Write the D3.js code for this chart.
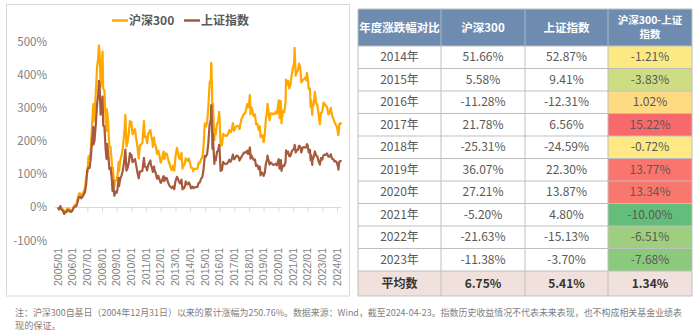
<!DOCTYPE html>
<html><head><meta charset="utf-8">
<script src="https://cdn.jsdelivr.net/npm/d3@7"></script>
<style>
html,body{margin:0;padding:0;background:#fff;}
svg{display:block;font-family:"Noto Sans CJK SC","Noto Sans",sans-serif;}
</style></head>
<body><svg id="c" width="700" height="335"></svg>
<script>
// ---------- line chart data (index closes; base = 2004-12-31) ----------
const seriesNames = ["沪深300", "上证指数"];
const hs300Base = 1000;
const sseBase = 1266.5;
const dates = [
"2004-12-31",
"2005-01-31","2005-02-28","2005-03-31","2005-04-29","2005-06-03","2005-06-30","2005-07-29","2005-08-31","2005-09-30","2005-10-31","2005-11-30","2005-12-30",
"2006-01-26","2006-02-28","2006-03-31","2006-04-28","2006-05-31","2006-06-30","2006-07-31","2006-08-31","2006-09-29","2006-10-31","2006-11-30","2006-12-29",
"2007-01-31","2007-02-27","2007-03-30","2007-04-30","2007-05-29","2007-06-04","2007-06-29","2007-07-31","2007-08-31","2007-09-28","2007-10-16","2007-10-31","2007-11-28","2007-12-28",
"2008-01-14","2008-01-31","2008-02-29","2008-03-31","2008-04-22","2008-04-30","2008-05-30","2008-06-30","2008-07-31","2008-08-29","2008-09-18","2008-09-26","2008-10-31","2008-11-04","2008-11-28","2008-12-31",
"2009-01-23","2009-02-17","2009-02-27","2009-03-31","2009-04-30","2009-05-27","2009-06-30","2009-07-31","2009-08-04","2009-08-31","2009-09-30","2009-10-30","2009-11-24","2009-11-30","2009-12-31",
"2010-01-29","2010-02-26","2010-03-31","2010-04-30","2010-05-31","2010-07-02","2010-07-30","2010-08-31","2010-09-30","2010-11-08","2010-11-30","2010-12-31",
"2011-01-25","2011-02-28","2011-04-18","2011-04-29","2011-05-31","2011-06-20","2011-07-18","2011-07-29","2011-08-31","2011-09-30","2011-10-31","2011-11-30","2011-12-30",
"2012-01-31","2012-02-29","2012-03-13","2012-03-30","2012-04-27","2012-05-31","2012-06-29","2012-07-31","2012-08-31","2012-09-26","2012-10-31","2012-12-03","2012-12-31",
"2013-02-06","2013-02-28","2013-03-29","2013-04-26","2013-05-30","2013-06-25","2013-06-28","2013-07-31","2013-08-30","2013-09-12","2013-09-30","2013-10-31","2013-11-29","2013-12-31",
"2014-01-20","2014-01-30","2014-02-28","2014-03-20","2014-03-31","2014-04-30","2014-05-30","2014-06-30","2014-07-31","2014-08-29","2014-09-30","2014-10-31","2014-11-28","2014-12-31",
"2015-01-30","2015-02-27","2015-03-31","2015-04-30","2015-05-29","2015-06-08","2015-06-12","2015-06-30","2015-07-08","2015-07-24","2015-07-31","2015-08-26","2015-08-31","2015-09-30","2015-10-30","2015-11-30","2015-12-22","2015-12-31",
"2016-01-28","2016-02-29","2016-03-31","2016-04-29","2016-05-31","2016-06-30","2016-07-29","2016-08-31","2016-09-30","2016-10-31","2016-11-29","2016-12-30",
"2017-01-26","2017-02-28","2017-03-31","2017-04-28","2017-05-11","2017-05-31","2017-06-30","2017-07-31","2017-08-31","2017-09-29","2017-10-31","2017-11-22","2017-11-30","2017-12-29",
"2018-01-24","2018-01-31","2018-02-09","2018-02-28","2018-03-30","2018-04-27","2018-05-31","2018-06-29","2018-07-31","2018-08-31","2018-09-28","2018-10-18","2018-10-31","2018-11-30","2018-12-28",
"2019-01-03","2019-01-31","2019-02-28","2019-03-29","2019-04-08","2019-04-30","2019-05-31","2019-06-28","2019-07-31","2019-08-30","2019-09-30","2019-10-31","2019-11-29","2019-12-31",
"2020-01-14","2020-02-03","2020-02-28","2020-03-05","2020-03-23","2020-03-31","2020-04-30","2020-05-29","2020-06-30","2020-07-13","2020-07-31","2020-08-31","2020-09-30","2020-10-30","2020-11-30","2020-12-31",
"2021-01-29","2021-02-10","2021-02-26","2021-03-09","2021-03-31","2021-04-30","2021-05-31","2021-06-30","2021-07-28","2021-08-31","2021-09-30","2021-10-29","2021-11-30","2021-12-13","2021-12-31",
"2022-01-28","2022-02-28","2022-03-15","2022-03-31","2022-04-26","2022-04-29","2022-05-31","2022-06-30","2022-07-29","2022-08-31","2022-09-30","2022-10-31","2022-11-30","2022-12-30",
"2023-01-31","2023-02-28","2023-03-31","2023-04-28","2023-05-31","2023-06-30","2023-07-31","2023-08-31","2023-09-28","2023-10-31","2023-11-30","2023-12-29",
"2024-01-31","2024-02-05","2024-02-29","2024-03-29","2024-04-23"
];
const hs300 = [
1000,
950,1040,946,942,807,903,920,970,960,920,903,923,
1014,1074,1066,1217,1397,1426,1339,1379,1470,1564,1855,2041,
2540,2457,2781,3520,4109,3600,3854,4472,5239,5500,5877,5688,4640,5338,
5697,4577,4525,3631,3300,3953,3617,2814,2825,2380,1920,2200,1663,1627,1809,1817,
1990,2372,2082,2427,2559,2735,3140,3645,3787,2836,2983,3254,3600,3459,3575,
3205,3281,3358,3068,2813,2476,2868,2903,2936,3597,3115,3128,
2934,3239,3336,3211,3024,2820,3104,2948,2848,2612,2700,2551,2346,
2464,2635,2680,2455,2627,2617,2462,2333,2204,2120,2254,2108,2523,
2791,2674,2495,2447,2640,2164,2223,2262,2378,2475,2429,2401,2475,2330,
2200,2203,2178,2086,2146,2158,2160,2165,2346,2327,2451,2508,2809,3533,
3435,3572,4051,4749,4841,5354,5335,4473,3663,4123,3816,3025,3366,3202,3534,3566,3876,3731,
2853,2878,3218,3156,3169,3154,3203,3327,3253,3336,3538,3310,
3387,3452,3456,3439,3356,3492,3666,3737,3822,3836,4006,4112,4006,4031,
4382,4275,3800,4023,3899,3756,3802,3510,3517,3334,3438,3119,3153,3173,3011,
2965,3201,3670,3872,4120,3913,3630,3826,3836,3799,3814,3886,3829,4097,
4225,3688,3940,4206,3531,3686,3912,3868,4164,4853,4696,4816,4587,4695,4980,5212,
5351,5808,5336,4970,5048,5123,5331,5224,4765,4828,4866,4908,4832,5055,4940,
4564,4581,4029,4223,3784,4016,4091,4485,4170,4078,3804,3508,3854,3872,
4157,4111,4051,4029,3799,3843,4002,3766,3690,3573,3497,3431,
3215,3179,3516,3537,3507
];
const sse = [
1266.5,
1191,1306,1181,1159,1013,1080,1083,1162,1155,1092,1099,1161,
1258,1299,1298,1440,1641,1672,1612,1658,1752,1837,2099,2675,
2786,2771,3183,3841,4335,3670,3821,4471,5219,5552,6092,5954,4803,5262,
5497,4383,4348,3473,3116,3693,3433,2736,2775,2397,1895,2293,1729,1707,1871,1821,
1991,2389,2082,2373,2477,2633,2959,3412,3471,2667,2779,2996,3338,3195,3277,
2989,3051,3110,2870,2592,2373,2638,2639,2656,3159,2820,2808,
2677,2905,3057,2911,2743,2621,2826,2701,2568,2359,2468,2333,2199,
2292,2428,2460,2263,2396,2373,2225,2103,2047,1999,2069,1959,2269,
2434,2366,2237,2178,2324,1951,1979,1994,2098,2255,2175,2141,2220,2116,
1991,2033,2056,1994,2033,2026,2039,2048,2202,2217,2364,2420,2683,3235,
3210,3310,3748,4442,4612,5131,5166,4277,3507,4070,3664,2927,3206,3053,3383,3445,3651,3539,
2656,2688,3004,2938,2917,2930,2979,3085,3005,3100,3283,3104,
3159,3242,3223,3155,3053,3117,3192,3273,3361,3349,3393,3430,3317,3307,
3559,3481,3129,3259,3169,3082,3095,2847,2876,2725,2821,2486,2603,2588,2494,
2464,2585,2941,3091,3245,3078,2899,2979,2933,2886,2905,2929,2872,3050,
3106,2746,2880,3071,2660,2750,2860,2852,2985,3443,3310,3396,3218,3225,3392,3473,
3483,3655,3509,3360,3442,3447,3615,3591,3362,3544,3568,3547,3564,3681,3640,
3361,3462,3064,3252,2886,3047,3186,3399,3253,3202,3024,2893,3151,3089,
3256,3280,3273,3323,3205,3202,3291,3120,3110,3018,3030,2975,
2789,2702,3015,3041,3022
];
const yTicks = [-100, 0, 100, 200, 300, 400, 500];
const xTickLabels = ["2005/01","2006/01","2007/01","2008/01","2009/01","2010/01","2011/01","2012/01","2013/01","2014/01","2015/01","2016/01","2017/01","2018/01","2019/01","2020/01","2021/01","2022/01","2023/01","2024/01"];

// ---------- table data ----------
const tableHeaders = [["年度涨跌幅对比"], ["沪深300"], ["上证指数"], ["沪深300-上证", "指数"]];
const tableYears = ["2014年","2015年","2016年","2017年","2018年","2019年","2020年","2021年","2022年","2023年"];
const hs300Annual = [51.66, 5.58, -11.28, 21.78, -25.31, 36.07, 27.21, -5.20, -21.63, -11.38];
const sseAnnual = [52.87, 9.41, -12.31, 6.56, -24.59, 22.30, 13.87, 4.80, -15.13, -3.70];
const diffAnnual = [-1.21, -3.83, 1.02, 15.22, -0.72, 13.77, 13.34, -10.00, -6.51, -7.68];
const avgLabel = "平均数";
const avgValues = [6.75, 5.41, 1.34];
const footnote = [
  "注：沪深300自基日（2004年12月31日）以来的累计涨幅为250.76%。数据来源：Wind，截至2024-04-23。指数历史收益情况不代表未来表现，也不构成相关基金业绩表",
  "现的保证。"
];

// ---------- drawing ----------
const svg = d3.select("#c");
svg.append("rect").attr("width",700).attr("height",335).attr("fill","#fff");
const colors = ["#FFA800", "#A65B3E"];
const parse = d3.timeParse("%Y-%m-%d");
const dts = dates.map(parse);

// chart frame
svg.append("rect").attr("x",6.5).attr("y",4.5).attr("width",343).attr("height",291.5)
  .attr("fill","none").attr("stroke","#d9d9d9").attr("stroke-width",1);

const x = d3.scaleTime().domain([new Date(2005,0,1), new Date(2024,0,1)]).range([58, 337]);
const y = d3.scaleLinear().domain([-100, 500]).range([240.5, 41.5]);

// y labels
svg.append("g").selectAll("text").data(yTicks).join("text")
  .attr("x",47).attr("y",d=>y(d)).attr("dy","0.35em").attr("text-anchor","end")
  .attr("font-size",11.5).attr("fill","#7f7f7f").text(d=>d+"%");

// x axis at 0%
const tickDates = xTickLabels.map(s => new Date(+s.slice(0,4), +s.slice(5,7)-1, 1));
const xAxis = d3.axisBottom(x).tickValues(tickDates).tickSize(4).tickSizeOuter(0).tickFormat("");
const gx = svg.append("g").attr("transform",`translate(0,${Math.round(y(0))+0.5})`).call(xAxis);
gx.select(".domain").attr("stroke","#d9d9d9").attr("d","M55,0H341");
gx.selectAll(".tick line").attr("stroke","#d9d9d9");

svg.append("g").selectAll("text").data(xTickLabels).join("text")
  .attr("transform",(d,i)=>`translate(${x(tickDates[i])},248) rotate(-90)`)
  .attr("text-anchor","end").attr("dy","0.35em")
  .attr("font-size",10.5).attr("fill","#7f7f7f").attr("font-family","'Liberation Sans',Arial,sans-serif").text(d=>d);

// lines
const pctH = hs300.map(v => (v/hs300Base - 1)*100);
const pctS = sse.map(v => (v/sseBase - 1)*100);
const line = d3.line().x((d,i)=>x(dts[i])).y(d=>y(d));
svg.append("path").datum(pctH).attr("d",line).attr("fill","none")
  .attr("stroke",colors[0]).attr("stroke-width",2.2).attr("stroke-linejoin","round");
svg.append("path").datum(pctS).attr("d",line).attr("fill","none")
  .attr("stroke",colors[1]).attr("stroke-width",2.2).attr("stroke-linejoin","round");

// legend
const legendX = [112, 184];
seriesNames.forEach((n,i)=>{
  svg.append("line").attr("x1",legendX[i]).attr("x2",legendX[i]+16).attr("y1",20.5).attr("y2",20.5)
    .attr("stroke",colors[i]).attr("stroke-width",2.5);
  svg.append("text").attr("x",legendX[i]+17).attr("y",21).attr("dy","0.35em")
    .attr("font-size",12).attr("font-weight","bold").attr("fill","#595959").text(n);
});

// table
const colX = [358, 441, 525, 608, 692];
const headTop = 9, headBot = 46, rowH = 22.5;
const nRows = tableYears.length;
const avgTop = headBot + nRows*rowH, avgBot = 296;
const t = svg.append("g");
t.append("rect").attr("x",colX[0]).attr("y",headTop).attr("width",colX[4]-colX[0]).attr("height",headBot-headTop).attr("fill","#6E8CB0");
const med = d3.median(diffAnnual);
const cScale = d3.scaleLinear().domain([d3.min(diffAnnual), med, d3.max(diffAnnual)])
  .range(["#63BE7B","#FFEB84","#F8696B"]).interpolate(d3.interpolateRgb);
diffAnnual.forEach((v,i)=>{
  t.append("rect").attr("x",colX[3]).attr("y",headBot+i*rowH).attr("width",colX[4]-colX[3]).attr("height",rowH).attr("fill",cScale(v));
});
t.append("rect").attr("x",colX[0]).attr("y",avgTop).attr("width",colX[4]-colX[0]).attr("height",avgBot-avgTop).attr("fill","#F0E1DC");
// grid lines
for (let i=0;i<=nRows;i++){
  t.append("line").attr("x1",colX[0]).attr("x2",colX[4]).attr("y1",headBot+i*rowH).attr("y2",headBot+i*rowH).attr("stroke","#bfbfbf");
}
t.append("line").attr("x1",colX[0]).attr("x2",colX[4]).attr("y1",avgBot).attr("y2",avgBot).attr("stroke","#bfbfbf");
colX.forEach((cx,j)=>{
  t.append("line").attr("x1",cx).attr("x2",cx).attr("y1",headTop).attr("y2",headBot).attr("stroke",(j===0||j===4)?"#bfbfbf":"#a9b9cc");
  t.append("line").attr("x1",cx).attr("x2",cx).attr("y1",headBot).attr("y2",avgBot).attr("stroke","#bfbfbf");
});
t.append("line").attr("x1",colX[0]).attr("x2",colX[4]).attr("y1",headTop).attr("y2",headTop).attr("stroke","#bfbfbf");

const cx = j => (colX[j]+colX[j+1])/2;
tableHeaders.forEach((lines,j)=>{
  const mid = (headTop+headBot)/2;
  const tx = t.append("text").attr("text-anchor","middle")
    .attr("font-size",lines.length===1?11.5:10.5).attr("font-weight","bold").attr("fill","#fff");
  lines.forEach((s,k)=>{
    const yy = lines.length===1 ? mid : mid + (k-0.5)*14.5;
    tx.append("tspan").attr("x",cx(j)).attr("y",yy).attr("dy","0.35em").text(s);
  });
});
const fmt = v => v.toFixed(2)+"%";
tableYears.forEach((yr,i)=>{
  const yy = headBot + i*rowH + rowH/2;
  [yr, fmt(hs300Annual[i]), fmt(sseAnnual[i]), fmt(diffAnnual[i])].forEach((s,j)=>{
    t.append("text").attr("x",cx(j)).attr("y",yy).attr("dy","0.35em").attr("text-anchor","middle")
      .attr("font-size",12).attr("fill","#595959").text(s);
  });
});
[avgLabel, ...avgValues.map(fmt)].forEach((s,j)=>{
  t.append("text").attr("x",cx(j)).attr("y",(avgTop+avgBot)/2).attr("dy","0.35em").attr("text-anchor","middle")
    .attr("font-size",12).attr("font-weight","bold").attr("fill","#333").text(s);
});

// footnote
footnote.forEach((s,i)=>{
  const tx = svg.append("text").attr("x",15).attr("y",313+i*13).attr("dy","0.35em")
    .attr("font-size",9.2).attr("fill","#7f7f7f").text(s);
  if (i===0) tx.attr("textLength",667).attr("lengthAdjust","spacingAndGlyphs");
});
</script></body></html>
